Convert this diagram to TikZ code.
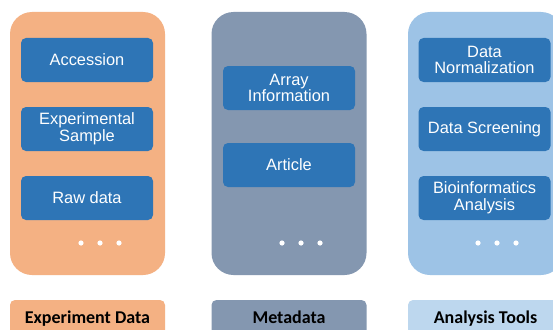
\documentclass[tikz,border=0pt]{standalone}
\usepackage{fontspec}
\setmainfont{Liberation Sans}
\newfontfamily\labelfont{Carlito}
\usetikzlibrary{shapes}

\definecolor{panelOrange}{HTML}{F4B183}
\definecolor{panelGray}{HTML}{8497B0}
\definecolor{panelBlue}{HTML}{9DC3E6}
\definecolor{tagBlue}{HTML}{BDD7EE}
\definecolor{itemBlue}{HTML}{2E75B6}

\begin{document}
\begin{tikzpicture}[x=1pt,y=-1pt]

    \tikzset{panel/.style = {shape=rectangle,rounded corners=22pt,minimum width=155pt,minimum height=263pt,inner sep=0pt}}
    \tikzset{tag/.style = {shape=rectangle,rounded corners=5pt,minimum width=155pt,minimum height=38pt,inner sep=0pt,
        text height=12.5pt,text depth=4pt,
        font=\labelfont\fontsize{18}{20}\selectfont\bfseries,text=black}}
    \tikzset{item/.style = {shape=rectangle,rounded corners=5pt,fill=itemBlue,text=white,minimum width=132pt,minimum height=44pt,
        inner sep=0pt,align=center,font=\fontsize{16.4}{16.8}\selectfont}}
    \tikzset{dot/.style = {fill=white}}

    \clip (0,0) rectangle (553,329);
    \fill[white] (0,0) rectangle (553,329);

    %experiment data
    \node [panel,fill=panelOrange] (expPanel) at (87.5,143.5) {};
    \node [item] (accession) at (87,60) {Accession};
    \node [item] (sample) at (87,129) {Experimental\\Sample};
    \node [item] (rawData) at (87,198) {Raw data};
    \fill [dot] (81,243) circle (2.6);
    \fill [dot] (100,243) circle (2.6);
    \fill [dot] (119,243) circle (2.6);
    \node [tag,fill=panelOrange] (expTag) at (87.5,319) {Experiment Data};


    %metadata
    \node [panel,fill=panelGray] (metaPanel) at (289,143.5) {};
    \node [item] (arrayInfo) at (289,88) {Array\\Information};
    \node [item] (article) at (289,165) {Article};
    \fill [dot] (282,243) circle (2.6);
    \fill [dot] (301,243) circle (2.6);
    \fill [dot] (320,243) circle (2.6);
    \node [tag,fill=panelGray] (metaTag) at (289,319) {Metadata};


    %analysis tools
    \node [panel,fill=panelBlue] (toolPanel) at (485.5,143.5) {};
    \node [item] (normalization) at (484.5,60) {Data\\Normalization};
    \node [item] (screening) at (484.5,129) {Data Screening};
    \node [item] (bioinfo) at (484.5,198) {Bioinformatics\\Analysis};
    \fill [dot] (478,243) circle (2.6);
    \fill [dot] (497,243) circle (2.6);
    \fill [dot] (516,243) circle (2.6);
    \node [tag,fill=tagBlue] (toolTag) at (485.5,319) {Analysis Tools};

\end{tikzpicture}
\end{document}
